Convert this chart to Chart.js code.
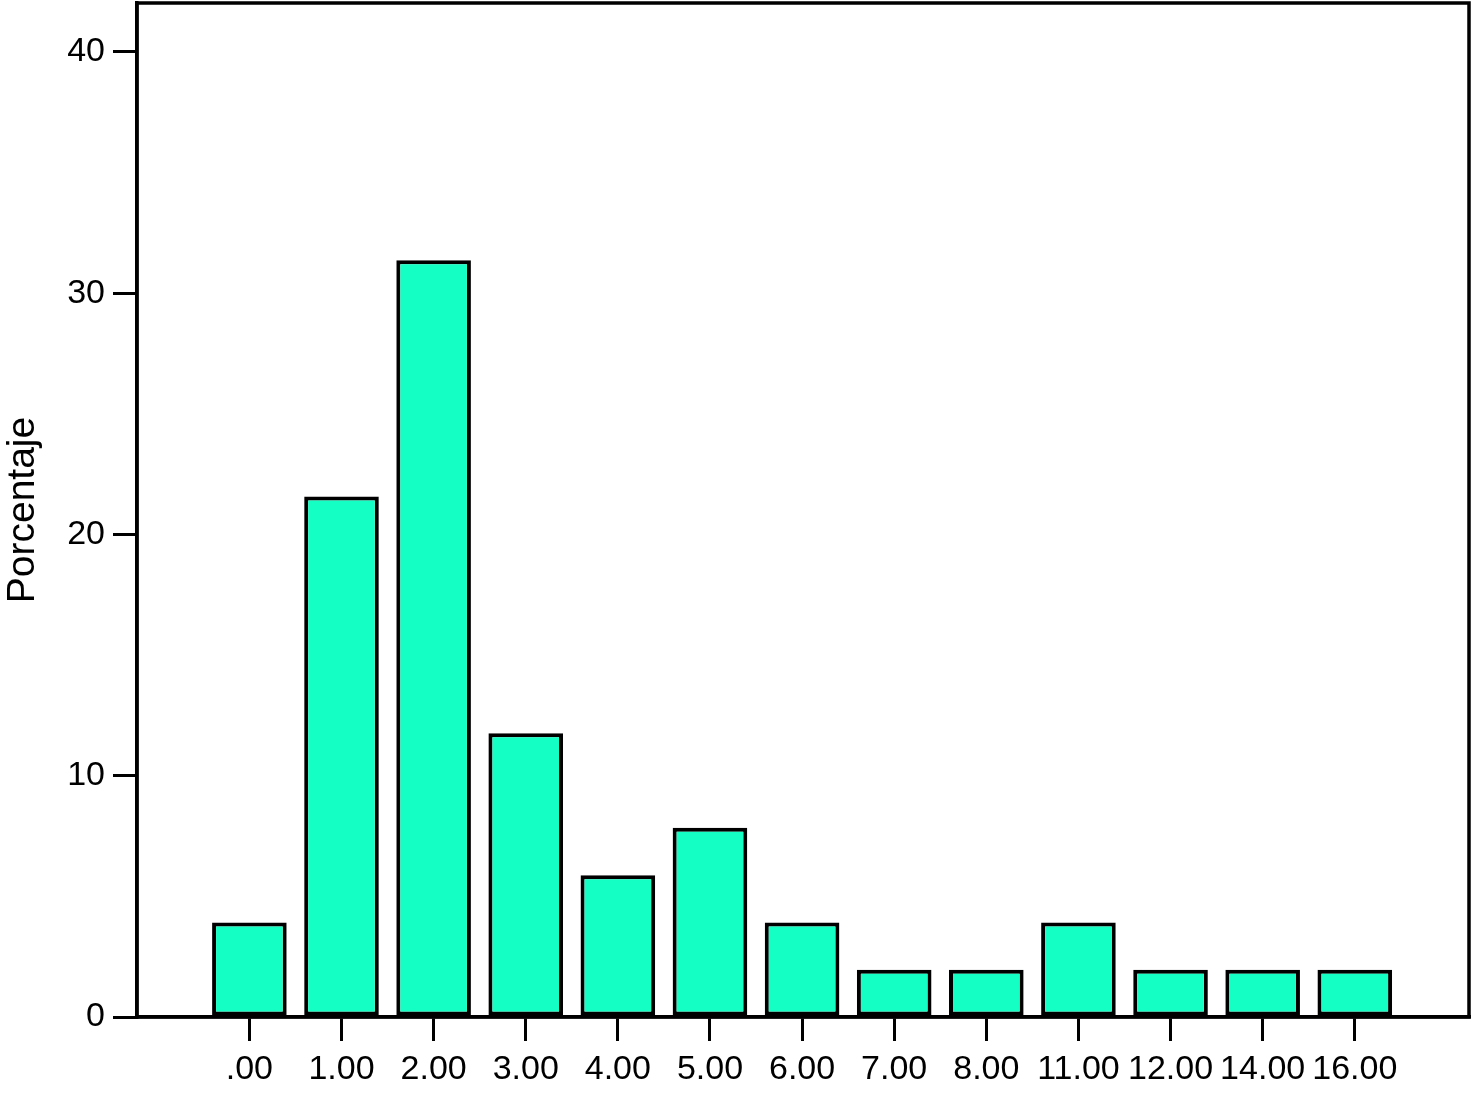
<!DOCTYPE html>
<html>
<head>
<meta charset="utf-8">
<script src="https://cdn.jsdelivr.net/npm/chart.js@4.4.1/dist/chart.umd.min.js"></script>
<style>
  html, body { margin: 0; padding: 0; background: #fff; }
  #wrap { width: 1472px; height: 1097px; }
</style>
</head>
<body>
<div id="wrap"><canvas id="chart"></canvas></div>
<script>
// categories and percentages (n = 51)
const categories = ['.00', '1.00', '2.00', '3.00', '4.00', '5.00', '6.00', '7.00', '8.00', '11.00', '12.00', '14.00', '16.00'];
const percentages = [3.92, 21.57, 31.37, 11.76, 5.88, 7.84, 3.92, 1.96, 1.96, 3.92, 1.96, 1.96, 1.96];
const yTicks = [0, 10, 20, 30, 40];
const yTitle = 'Porcentaje';

const fontFamily = '"Liberation Sans", Arial, Helvetica, sans-serif';

// frame around the plot area
const framePlugin = {
    id: 'frame',
    afterDraw(chart) {
        const a = chart.chartArea;
        const ctx = chart.ctx;
        ctx.save();
        ctx.strokeStyle = '#000';
        ctx.lineWidth = 3.5;
        ctx.strokeRect(a.left, a.top, a.right - a.left, a.bottom - a.top);
        ctx.restore();
    }
};

const ctx = document.getElementById('chart').getContext('2d');
new Chart(ctx, {
    type: 'bar',
    data: {
        datasets: [{
            data: percentages.map((v, i) => ({ x: i, y: v })),
            backgroundColor: '#14FFC4',
            borderColor: '#000',
            borderWidth: 4,
            borderSkipped: false,
            barPercentage: 0.81,
            categoryPercentage: 1.0
        }]
    },
    options: {
        responsive: true,
        maintainAspectRatio: false,
        animation: false,
        layout: { padding: { top: 3, right: 3, left: 0, bottom: 0 } },
        plugins: {
            legend: { display: false },
            tooltip: { enabled: false }
        },
        scales: {
            x: {
                type: 'linear',
                min: -1.22,
                max: 13.24,
                offset: false,
                afterBuildTicks: s => { s.ticks = categories.map((c, i) => ({ value: i })); },
                afterFit: s => { s.height = 80; s.paddingLeft = 0; s.paddingRight = 0; },
                ticks: {
                    autoSkip: false,
                    maxRotation: 0,
                    padding: 8,
                    color: '#000',
                    font: { family: fontFamily, size: 34 },
                    callback: v => categories[v]
                },
                grid: {
                    offset: false,
                    drawOnChartArea: false,
                    drawTicks: true,
                    tickLength: 24,
                    color: '#000',
                    lineWidth: 3
                },
                border: { display: true, color: '#000', width: 3.5 }
            },
            y: {
                min: 0,
                max: 42.03,
                afterBuildTicks: s => { s.ticks = yTicks.map(v => ({ value: v })); },
                afterFit: s => { s.width = 137; s.paddingTop = 0; s.paddingBottom = 0; },
                ticks: {
                    padding: 8,
                    color: '#000',
                    font: { family: fontFamily, size: 34 }
                },
                grid: {
                    drawOnChartArea: false,
                    drawTicks: true,
                    tickLength: 24,
                    color: '#000',
                    lineWidth: 3
                },
                border: { display: true, color: '#000', width: 3.5 },
                title: {
                    display: true,
                    text: yTitle,
                    color: '#000',
                    font: { family: fontFamily, size: 39 },
                    padding: { top: 0, bottom: 0 }
                }
            }
        }
    },
    plugins: [framePlugin]
});
</script>
</body>
</html>
